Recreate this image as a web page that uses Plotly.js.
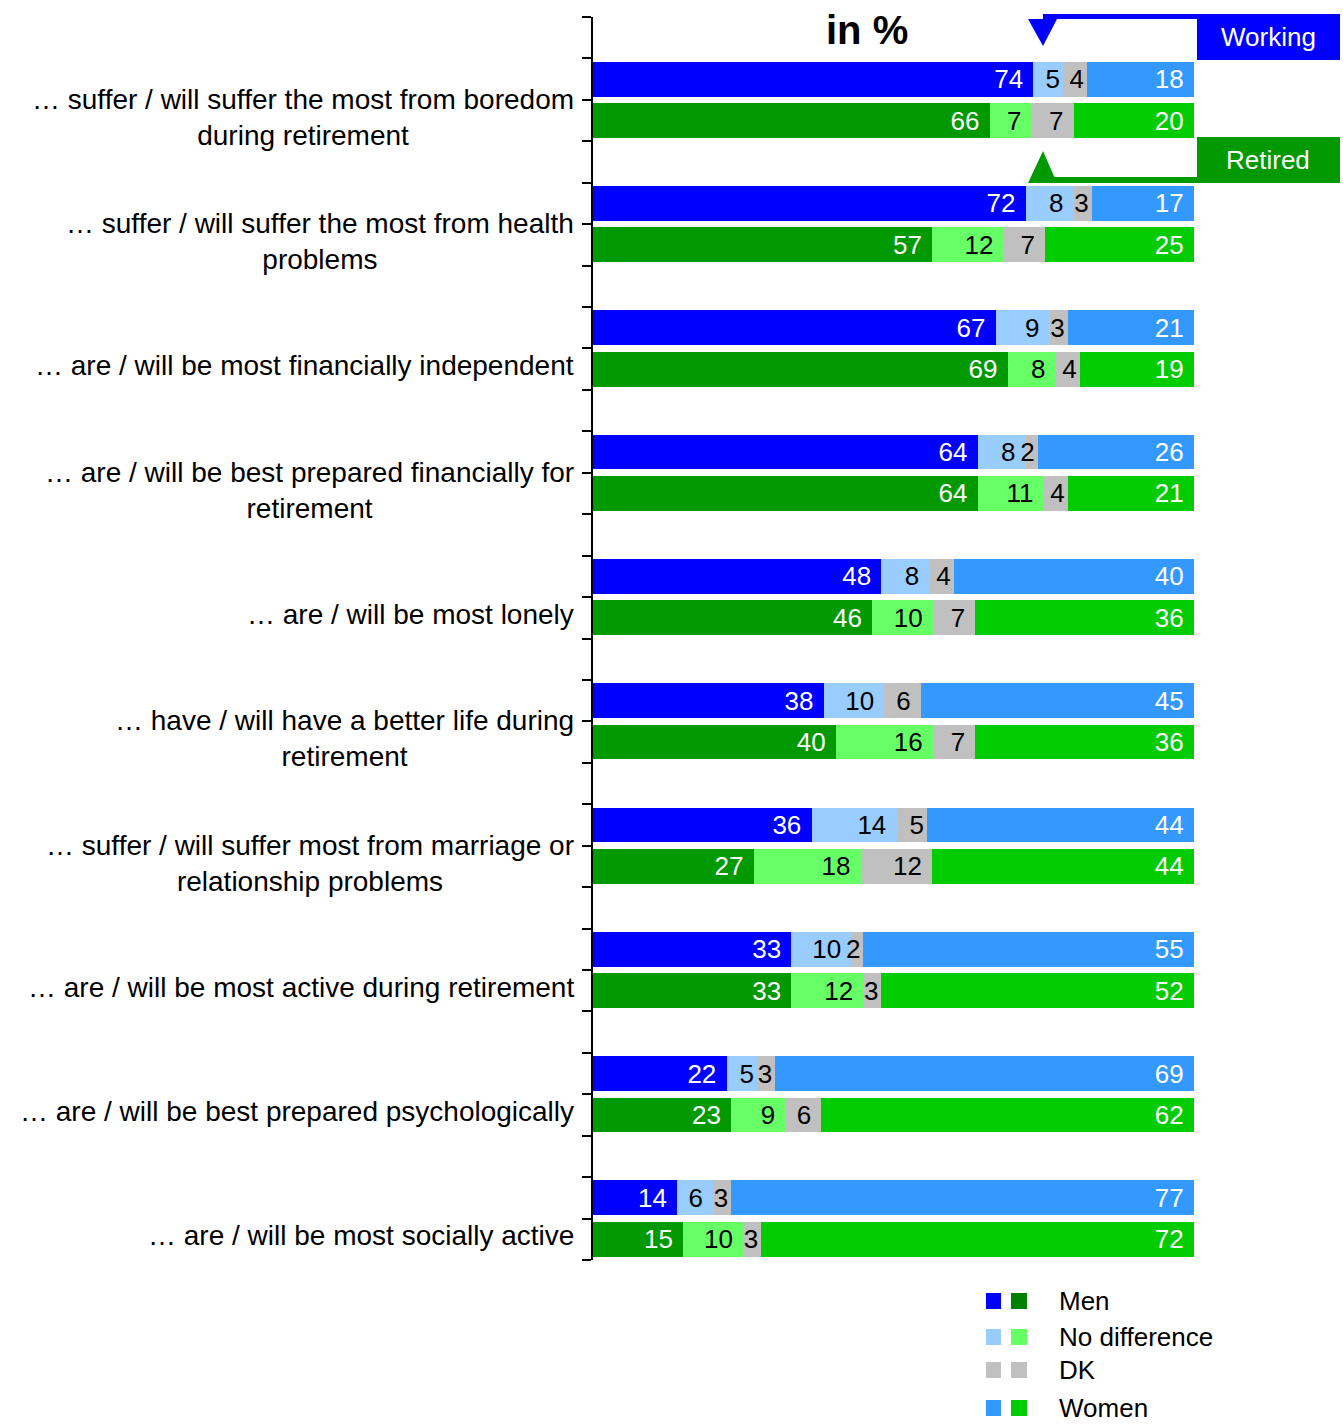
<!DOCTYPE html>
<html>
<head>
<meta charset="utf-8">
<script src="https://cdn.plot.ly/plotly-3.0.1.min.js"></script>
<style>
html,body{margin:0;padding:0;background:#fff;}
#chart{width:1343px;height:1428px;}
</style>
</head>
<body>
<div id="chart"></div>
<script>
// ---- data ----
const categories = [
  "… suffer / will suffer the most from boredom<br>during retirement",
  "… suffer / will suffer the most from health<br>problems",
  "… are / will be most financially independent",
  "… are / will be best prepared financially for<br>retirement",
  "… are / will be most lonely",
  "… have / will have a better life during<br>retirement",
  "… suffer / will suffer most from marriage or<br>relationship problems",
  "… are / will be most active during retirement",
  "… are / will be best prepared psychologically",
  "… are / will be most socially active"
];
const seriesNames = ["Men", "No difference", "DK", "Women"];
const groupNames = ["Working", "Retired"];

const workingMen    = [74, 72, 67, 64, 48, 38, 36, 33, 22, 14];
const workingNoDiff = [5, 8, 9, 8, 8, 10, 14, 10, 5, 6];
const workingDK     = [4, 3, 3, 2, 4, 6, 5, 2, 3, 3];
const workingWomen  = [18, 17, 21, 26, 40, 45, 44, 55, 69, 77];

const retiredMen    = [66, 57, 69, 64, 46, 40, 27, 33, 23, 15];
const retiredNoDiff = [7, 12, 8, 11, 10, 16, 18, 12, 9, 10];
const retiredDK     = [7, 7, 4, 4, 7, 7, 12, 3, 6, 3];
const retiredWomen  = [20, 25, 19, 21, 36, 36, 44, 52, 62, 72];

// ---- styles ----
const workingColors = ["#0000FF", "#99CCFF", "#C0C0C0", "#3399FF"];
const retiredColors = ["#009900", "#66FF66", "#C0C0C0", "#00CC00"];
const legendRetiredColors = ["#008000", "#66FF66", "#C0C0C0", "#00CC00"];
const textColors = ["#FFFFFF", "#000000", "#000000", "#FFFFFF"];
const FONT = "Arial, 'Liberation Sans', sans-serif";

const W = 1343, H = 1428;
const L = 593, R = 1194, T = 17, B = 1260;
const px = v => (v - L) / (R - L);
const py = v => (B - v) / (B - T);

const workingY = categories.map((c, i) => 3 * i + 1.5);
const retiredY = categories.map((c, i) => 3 * i + 2.5);

const workingSeries = [workingMen, workingNoDiff, workingDK, workingWomen];
const retiredSeries = [retiredMen, retiredNoDiff, retiredDK, retiredWomen];

const traces = [];
function addGroup(series, yPos, colors, group) {
  const totals = series[0].map((v, i) => series.reduce((s, arr) => s + arr[i], 0));
  series.forEach((vals, k) => {
    // label padding: extra right padding only when the segment is wide enough
    const templates = vals.map((v, i) => {
      const segPx = v / totals[i] * (R - L);
      const txtPx = String(v).length * 14.5;
      return segPx >= txtPx + 16 ? "%{text}\u00a0" : "%{text}";
    });
    traces.push({
      type: "bar",
      orientation: "h",
      name: seriesNames[k] + " (" + group + ")",
      x: vals,
      y: yPos,
      width: 0.84,
      text: vals.map(String),
      texttemplate: templates,
      textposition: "inside",
      insidetextanchor: "end",
      textangle: 0,
      constraintext: "none",
      textfont: {family: FONT, size: 26, color: textColors[k]},
      marker: {color: colors[k], line: {width: 0}},
      hoverinfo: "x+text",
      showlegend: false
    });
  });
}
addGroup(workingSeries, workingY, workingColors, groupNames[0]);
addGroup(retiredSeries, retiredY, retiredColors, groupNames[1]);

const annotations = [];
const shapes = [];

// category labels
categories.forEach((c, i) => {
  annotations.push({
    text: c, xref: "paper", yref: "y", x: px(576), y: 3 * i + 2.42,
    xanchor: "right", yanchor: "middle", align: "center", showarrow: false,
    font: {family: FONT, size: 28, color: "#000"}
  });
});

// title
annotations.push({
  text: "<b>in %</b>", xref: "paper", yref: "paper", x: px(867), y: py(30),
  xanchor: "center", yanchor: "middle", showarrow: false,
  font: {family: FONT, size: 40, color: "#000"}
});

// Working / Retired callouts
shapes.push({type: "rect", xref: "paper", yref: "paper", x0: px(1197), x1: px(1340), y0: py(14), y1: py(60),
  fillcolor: "#0000FF", line: {width: 0}});
shapes.push({type: "rect", xref: "paper", yref: "paper", x0: px(1043), x1: px(1197), y0: py(14), y1: py(19),
  fillcolor: "#0000FF", line: {width: 0}});
shapes.push({type: "path", xref: "paper", yref: "paper",
  path: "M " + px(1028) + " " + py(19) + " L " + px(1057) + " " + py(19) + " L " + px(1043) + " " + py(46) + " Z",
  fillcolor: "#0000FF", line: {width: 0}});
annotations.push({text: groupNames[0], xref: "paper", yref: "paper", x: px(1268), y: py(37),
  xanchor: "center", yanchor: "middle", showarrow: false, font: {family: FONT, size: 26, color: "#fff"}});

shapes.push({type: "rect", xref: "paper", yref: "paper", x0: px(1197), x1: px(1340), y0: py(137), y1: py(183),
  fillcolor: "#009900", line: {width: 0}});
shapes.push({type: "rect", xref: "paper", yref: "paper", x0: px(1043), x1: px(1197), y0: py(177), y1: py(183),
  fillcolor: "#009900", line: {width: 0}});
shapes.push({type: "path", xref: "paper", yref: "paper",
  path: "M " + px(1028) + " " + py(183) + " L " + px(1057) + " " + py(183) + " L " + px(1043) + " " + py(151) + " Z",
  fillcolor: "#009900", line: {width: 0}});
annotations.push({text: groupNames[1], xref: "paper", yref: "paper", x: px(1268), y: py(160),
  xanchor: "center", yanchor: "middle", showarrow: false, font: {family: FONT, size: 26, color: "#fff"}});

// custom legend
const legendRows = [1301, 1337, 1370, 1408];
seriesNames.forEach((n, k) => {
  const cy = legendRows[k];
  shapes.push({type: "rect", xref: "paper", yref: "paper", x0: px(986), x1: px(1001), y0: py(cy - 8), y1: py(cy + 8),
    fillcolor: workingColors[k], line: {width: 0}});
  shapes.push({type: "rect", xref: "paper", yref: "paper", x0: px(1011), x1: px(1027), y0: py(cy - 8), y1: py(cy + 8),
    fillcolor: legendRetiredColors[k], line: {width: 0}});
  annotations.push({text: n, xref: "paper", yref: "paper", x: px(1057), y: py(cy),
    xanchor: "left", yanchor: "middle", showarrow: false, font: {family: FONT, size: 26, color: "#000"}});
});

const tickvals = [];
for (let i = 0; i <= 30; i++) tickvals.push(i);

const layout = {
  width: W, height: H,
  margin: {l: L, r: W - R, t: T, b: H - B, pad: 0},
  paper_bgcolor: "#fff", plot_bgcolor: "#fff",
  barmode: "stack", barnorm: "percent",
  showlegend: false,
  xaxis: {range: [0, 100], visible: false, fixedrange: true},
  yaxis: {
    range: [30, 0], tickvals: tickvals, showticklabels: false,
    ticks: "outside", ticklen: 9, tickwidth: 2, tickcolor: "#000",
    showline: true, linecolor: "#000", linewidth: 2, showgrid: false, zeroline: false
  },
  font: {family: FONT},
  annotations: annotations,
  shapes: shapes
};

Plotly.newPlot("chart", traces, layout, {displayModeBar: false, staticPlot: true});
</script>
</body>
</html>
